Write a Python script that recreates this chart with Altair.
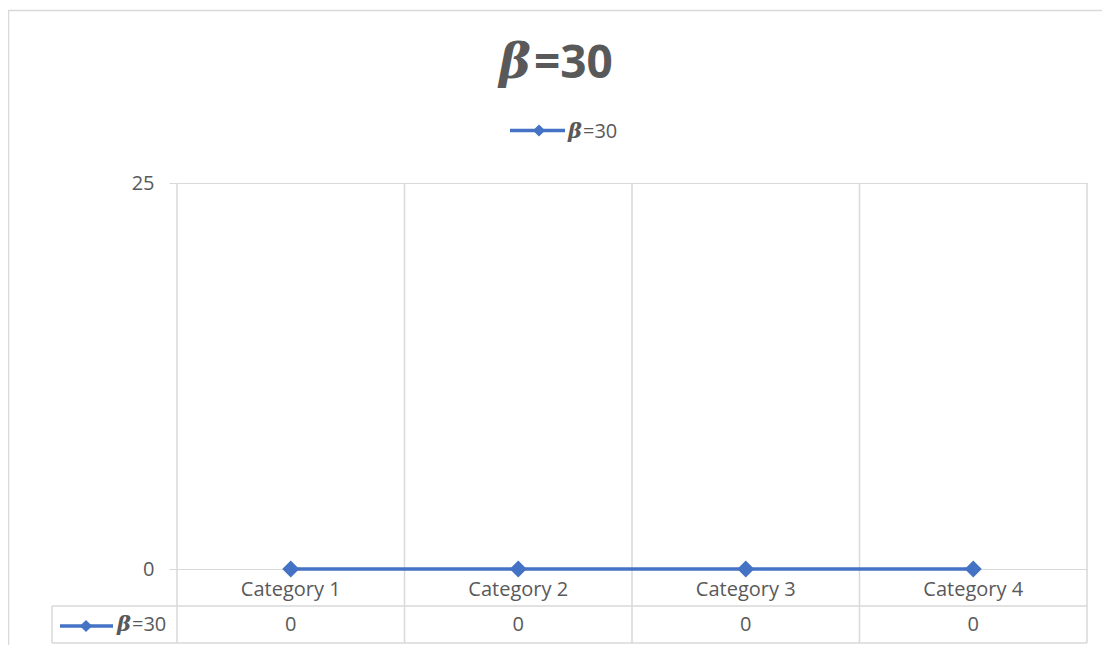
import altair as alt
import pandas as pd

categories = ["Category 1", "Category 2", "Category 3", "Category 4"]
values = [0, 0, 0, 0]
series_name_prefix = "β"
series_name_rest = "=30"
y_ticks = [0, 25]
y_domain = [0, 25]

df = pd.DataFrame({"cat": categories, "value": values})

W, H = 910, 386
TABLE_BOTTOM = 460
ROW_LINE = 423
GRID = "#d9d9d9"
TEXT = "#595959"
BLUE = "#4472C4"
FONT = "Open Sans"
SERIF = "DejaVu Serif"

xscale = alt.Scale(type="band", domain=categories, paddingInner=0, paddingOuter=0)
yscale = alt.Scale(domain=y_domain, nice=False, zero=True)

one = pd.DataFrame({"k": [0]})

x_axis = alt.Axis(title=None, domain=False, ticks=False, tickSize=0, grid=False,
                  labelFont=FONT, labelFontSize=20, labelColor=TEXT, labelPadding=26,
                  labelBaseline="alphabetic", labelAngle=0)
y_axis = alt.Axis(title=None, domain=False, ticks=True, tickSize=8, tickColor=GRID,
                  grid=True, gridColor=GRID, gridWidth=1, values=y_ticks,
                  labelFont=FONT, labelFontSize=20, labelColor=TEXT, labelPadding=15)

# vertical grid lines at category boundaries (extend through the data table)
vrules = alt.Chart(df).mark_rule(color=GRID, strokeWidth=1.5).encode(
    x=alt.X("cat:N", scale=xscale, bandPosition=0, axis=x_axis),
    y=alt.value(0), y2=alt.value(TABLE_BOTTOM))
right_rule = alt.Chart(one).mark_rule(color=GRID, strokeWidth=1.5).encode(
    x=alt.value(W), y=alt.value(0), y2=alt.value(TABLE_BOTTOM))
row_line1 = alt.Chart(one).mark_rule(color=GRID, strokeWidth=1.5).encode(
    x=alt.value(-125), x2=alt.value(W), y=alt.value(ROW_LINE))
row_line2 = alt.Chart(one).mark_rule(color=GRID, strokeWidth=1.5).encode(
    x=alt.value(-125), x2=alt.value(W), y=alt.value(TABLE_BOTTOM))
left_cell = alt.Chart(one).mark_rule(color=GRID, strokeWidth=1.5).encode(
    x=alt.value(-125), y=alt.value(ROW_LINE), y2=alt.value(TABLE_BOTTOM))

# outer chart border
border_top = alt.Chart(one).mark_rule(color=GRID, strokeWidth=1.5).encode(
    x=alt.value(-169), x2=alt.value(940), y=alt.value(-172.5))
border_left = alt.Chart(one).mark_rule(color=GRID, strokeWidth=1.5).encode(
    x=alt.value(-168.5), y=alt.value(-173), y2=alt.value(470))

line = alt.Chart(df).mark_line(
    color=BLUE, strokeWidth=3.5,
    point=alt.OverlayMarkDef(shape="diamond", size=289, filled=True, color=BLUE, opacity=1)
).encode(
    x=alt.X("cat:N", scale=xscale, bandPosition=0.5, axis=x_axis),
    y=alt.Y("value:Q", scale=yscale, axis=y_axis),
)

table_vals = alt.Chart(df).mark_text(font=FONT, fontSize=20, color=TEXT, baseline="alphabetic").encode(
    x=alt.X("cat:N", scale=xscale, bandPosition=0.5, axis=x_axis),
    y=alt.value(448),
    text=alt.Text("value:Q"),
)

def label(prefix_x, rest_x, base_y, size_serif, size_sans, weight_rest="normal"):
    a = alt.Chart(one).mark_text(text=series_name_prefix, font=SERIF, fontStyle="italic",
                                 fontWeight="bold", fontSize=size_serif, color=TEXT,
                                 align="left", baseline="alphabetic").encode(
        x=alt.value(prefix_x), y=alt.value(base_y))
    b = alt.Chart(one).mark_text(text=series_name_rest, font=FONT, fontWeight=weight_rest,
                                 fontSize=size_sans, color=TEXT,
                                 align="left", baseline="alphabetic").encode(
        x=alt.value(rest_x), y=alt.value(base_y))
    return [a, b]

def key(x1, x2, xc, yc):
    r = alt.Chart(one).mark_rule(color=BLUE, strokeWidth=3.5).encode(
        x=alt.value(x1), x2=alt.value(x2), y=alt.value(yc))
    p = alt.Chart(one).mark_point(shape="diamond", size=150, filled=True, color=BLUE, opacity=1).encode(
        x=alt.value(xc), y=alt.value(yc))
    return [r, p]

title_parts = label(322, 357, -105, 48, 46, "bold")
legend_parts = key(333, 388, 362, -52.5) + label(391, 406, -45, 21, 20)
table_key = key(-117, -64, -91, 443) + label(-60, -45, 448, 21, 20)

chart = alt.layer(
    border_top, border_left, vrules, right_rule, row_line1, row_line2, left_cell,
    line, table_vals, *title_parts, *legend_parts, *table_key
).properties(
    width=W, height=H,
    padding={"left": 169, "top": 175, "right": 15, "bottom": 76},
    autosize=alt.AutoSizeParams(type="none"),
    background="white",
).configure_view(stroke=None)

chart.save("out.html", embed_options={"renderer": "svg", "actions": False})
